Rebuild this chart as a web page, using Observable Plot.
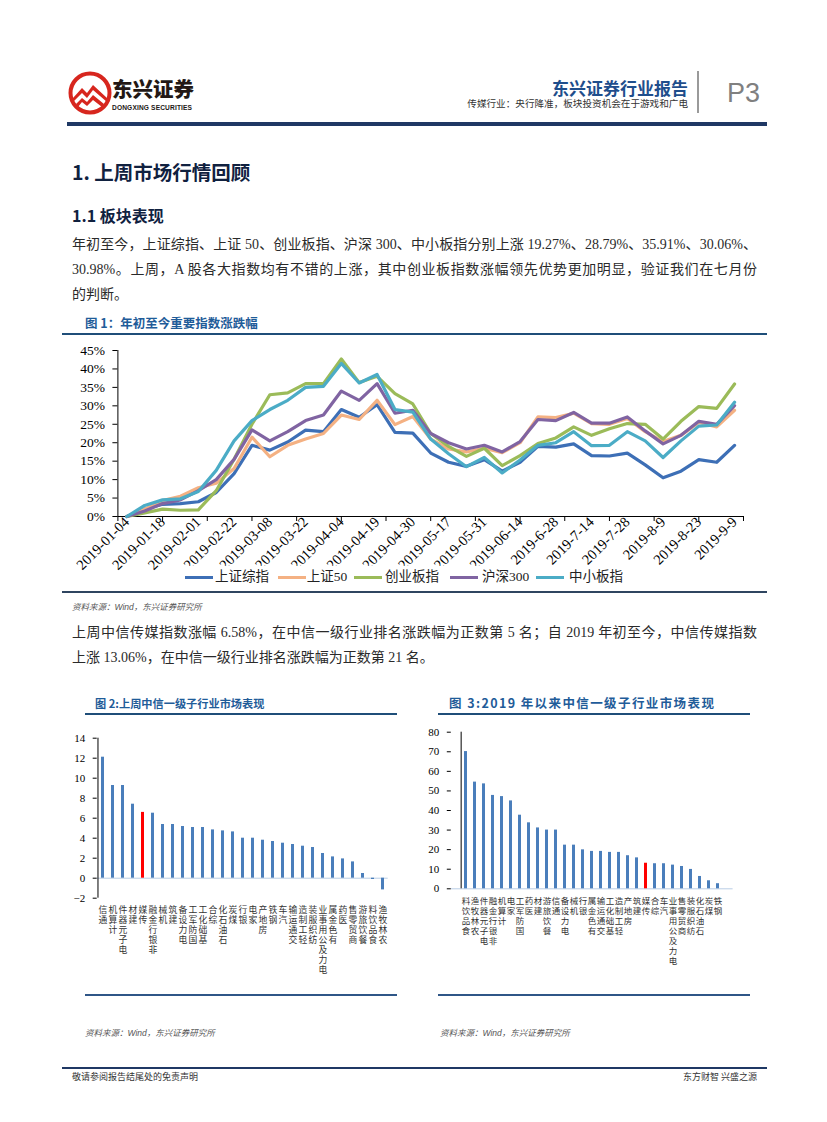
<!DOCTYPE html>
<html><head><meta charset="utf-8">
<script src="https://cdn.jsdelivr.net/npm/d3@7"></script>
<script src="https://cdn.jsdelivr.net/npm/@observablehq/plot@0.6"></script>
<style>
body{margin:0;background:#fff;}
#page{position:relative;width:827px;height:1122px;overflow:hidden;background:#fff;font-family:"Liberation Serif","Noto Sans CJK SC",serif;color:#222;}
.abs{position:absolute;white-space:nowrap;}
.cjk{font-family:"Noto Sans CJK SC",sans-serif;}
.bar{position:absolute;}
.para{position:absolute;left:72px;width:685px;height:20px;line-height:20px;font-size:14px;color:#2a2a2a;font-family:"Liberation Serif","Noto Sans CJK SC",serif;white-space:nowrap;}
.just{text-align:justify;text-align-last:justify;}
.figt{position:absolute;font-family:"Noto Sans CJK SC",sans-serif;font-weight:700;color:#1F5C99;white-space:nowrap;}
.src{position:absolute;font-size:8.5px;font-style:italic;color:#555;font-family:"Liberation Sans","Noto Sans CJK SC",sans-serif;white-space:nowrap;}
#c1,#c2,#c3{position:absolute;}
#legend{position:absolute;left:178px;top:566px;width:450px;height:22px;background:#fff;z-index:5;}
</style></head>
<body><div id="page">
  <!-- header -->
  <svg class="abs" style="left:68px;top:71px" width="44" height="44" viewBox="0 0 44 44">
    <circle cx="22" cy="22" r="19.5" fill="#fff" stroke="#D7261E" stroke-width="4"/>
    <path d="M5 27 L14 17 L19 22 L25 14 L39 27 L39 31 L25 19 L19 27 L14 22 L5 31 Z" fill="#D7261E"/>
    <path d="M8 33 L14 27 L19 31 L25 24 L36 33 L34 36 L25 29 L19 35 L14 31 L10 36 Z" fill="#D7261E"/>
  </svg>
  <div class="abs cjk" style="left:112px;top:78px;font-size:20.5px;font-weight:900;line-height:21px;color:#231815;">东兴证券</div>
  <div class="abs" style="left:112px;top:104px;font-size:6.6px;line-height:8px;font-weight:700;font-family:'Liberation Sans',sans-serif;color:#231815;letter-spacing:0.15px;">DONGXING SECURITIES</div>
  <div class="abs cjk" style="right:139px;top:78px;font-size:17px;font-weight:700;line-height:19px;color:#1F4E8C;">东兴证券行业报告</div>
  <div class="abs cjk" style="right:139px;top:97.5px;font-size:9.6px;line-height:11px;color:#333;">传媒行业：央行降准，板块投资机会在于游戏和广电</div>
  <div class="bar" style="left:697px;top:71px;width:1.5px;height:42px;background:#9a9a9a;"></div>
  <div class="abs" style="left:727px;top:77px;font-size:27px;line-height:32px;font-family:'Liberation Sans',sans-serif;font-weight:300;color:#808080;">P3</div>
  <div class="bar" style="left:67px;top:122px;width:700px;height:3.5px;background:#1F3864;"></div>

  <div class="abs cjk" style="left:72px;top:160px;font-size:19.5px;line-height:24px;font-weight:700;color:#10213f;">1. 上周市场行情回顾</div>
  <div class="abs cjk" style="left:72px;top:204px;font-size:16px;line-height:22px;font-weight:700;color:#10213f;">1.1 板块表现</div>

  <div class="para just" style="top:235px;">年初至今，上证综指、上证 50、创业板指、沪深 300、中小板指分别上涨 19.27%、28.79%、35.91%、30.06%、</div>
  <div class="para just" style="top:260px;">30.98%。上周，A 股各大指数均有不错的上涨，其中创业板指数涨幅领先优势更加明显，验证我们在七月份</div>
  <div class="para" style="top:285px;">的判断。</div>

  <div class="figt" style="left:85px;top:315px;font-size:12.5px;line-height:16px;">图 1：年初至今重要指数涨跌幅</div>
  <div class="bar" style="left:62px;top:333px;width:705px;height:1.5px;background:#1F4E79;"></div>
  <div id="c1" style="left:60px;top:340px;"></div>
  <div id="legend"></div>
  <div class="bar" style="left:62px;top:591px;width:705px;height:2px;background:#2F4560;"></div>
  <div class="src" style="left:72px;top:600px;">资料来源：Wind，东兴证券研究所</div>

  <div class="para just" style="top:623px;">上周中信传媒指数涨幅 6.58%，在中信一级行业排名涨跌幅为正数第 5 名；自 2019 年初至今，中信传媒指数</div>
  <div class="para" style="top:648px;">上涨 13.06%，在中信一级行业排名涨跌幅为正数第 21 名。</div>

  <div class="figt" style="left:95px;top:695px;font-size:11.2px;line-height:16px;">图 2:上周中信一级子行业市场表现</div>
  <div class="figt" style="left:449px;top:695px;font-size:12.5px;line-height:16px;letter-spacing:1.4px;">图 3:2019 年以来中信一级子行业市场表现</div>
  <div class="bar" style="left:85px;top:713px;width:312px;height:1.5px;background:#1F4E79;"></div>
  <div class="bar" style="left:438px;top:713px;width:312px;height:1.5px;background:#1F4E79;"></div>
  <div id="c2" style="left:45px;top:725px;"></div>
  <div id="c3" style="left:400px;top:720px;"></div>
  <div class="bar" style="left:85px;top:994px;width:312px;height:2px;background:#2F5687;"></div>
  <div class="bar" style="left:438px;top:994px;width:312px;height:2px;background:#2F5687;"></div>
  <div class="src" style="left:85px;top:1026px;">资料来源：Wind，东兴证券研究所</div>
  <div class="src" style="left:440px;top:1026px;">资料来源：Wind，东兴证券研究所</div>

  <div class="bar" style="left:62px;top:1067px;width:705px;height:2px;background:#1F3864;"></div>
  <div class="abs cjk" style="left:72px;top:1071px;font-size:9px;line-height:12px;color:#333;">敬请参阅报告结尾处的免责声明</div>
  <div class="abs cjk" style="right:70px;top:1071px;font-size:9px;line-height:12px;color:#333;">东方财智 兴盛之源</div>
</div>
<script>
// ---------- Figure 1 data ----------
const tickLabels = ["2019-01-04","2019-01-18","2019-02-01","2019-02-22","2019-03-08","2019-03-22","2019-04-04","2019-04-19","2019-04-30","2019-05-17","2019-05-31","2019-06-14","2019-6-28","2019-7-14","2019-7-28","2019-8-9","2019-8-23","2019-9-9"];
const seriesNames = ["上证综指","上证50","创业板指","沪深300","中小板指"];
const seriesColors = ["#3D6FB6","#F4B183","#9BBB59","#8064A2","#4BACC6"];
const shComposite = [0,2.0,3.3,3.5,4.0,6.5,11.6,19.3,18.0,20.2,23.4,23.0,29.0,26.9,30.3,22.8,22.6,17.2,14.7,13.6,15.4,12.3,14.7,19.0,18.8,19.7,16.5,16.4,17.2,14.0,10.5,12.3,15.4,14.7,19.27];
const sh50 = [0,2.0,4.3,5.5,7.8,9.0,13.0,21.5,16.2,19.3,21.0,22.5,27.5,26.3,31.5,24.9,27.1,21.0,18.3,17.5,18.5,17.3,20.0,27.0,26.8,28.0,25.2,25.0,26.6,23.0,20.3,22.0,25.5,24.3,28.79];
const chinext = [0,1.0,2.0,1.7,1.8,7.0,15.5,25.0,33.0,33.5,36.0,36.0,42.7,36.3,38.0,33.3,30.5,22.5,19.0,16.3,18.5,13.8,16.5,19.8,21.3,24.3,22.0,23.8,25.2,25.0,21.0,25.8,29.8,29.3,35.91];
const hs300 = [0,1.5,3.5,4.5,7.0,10.0,15.5,23.5,20.5,23.0,26.0,27.5,34.0,31.5,36.0,28.0,28.8,22.5,20.0,18.3,19.3,17.5,20.3,26.3,26.0,28.2,25.3,25.3,27.0,23.2,19.7,22.0,25.8,25.0,30.06];
const smeBoard = [0,3.0,4.5,4.8,6.8,12.5,20.5,26.0,29.0,31.5,35.0,35.3,41.5,36.2,38.5,29.0,28.3,21.0,17.0,13.5,16.0,11.8,15.3,19.3,20.0,23.0,19.2,19.3,23.0,20.5,16.0,20.5,24.5,24.8,30.98];
const yTicks1 = [0,5,10,15,20,25,30,35,40,45];

// ---------- Figure 2 data ----------
const cats2 = ["通信","计算机","电子元器件","建材","传媒","非银行金融","机械","建筑","电力设备","国防军工","基础化工","综合","石油石化","煤炭","银行","家电","房地产","钢铁","汽车","交通运输","轻工制造","纺织服装","电力及公用事业","有色金属","医药","商贸零售","餐饮旅游","食品饮料","农林牧渔"];
const vals2 = [12.1,9.27,9.27,7.4,6.58,6.5,5.37,5.37,5.17,5.07,5.07,4.83,4.73,4.63,4.0,4.0,3.8,3.67,3.5,3.37,3.2,3.07,2.47,2.13,1.93,1.63,0.47,-0.13,-1.17];
const yTicks2 = [-2,0,2,4,6,8,10,12,14];

// ---------- Figure 3 data ----------
const cats3 = ["食品饮料","农林牧渔","电子元器件","非银行金融","计算机","家电","国防军工","医药","建材","餐饮旅游","通信","电力设备","机械","银行","有色金属","交通运输","基础化工","轻工制造","房地产","建筑","传媒","综合","汽车","电力及公用事业","商贸零售","纺织服装","石油石化","煤炭","钢铁"];
const vals3 = [70.1,54.5,53.6,47.7,47.1,44.9,37.6,33.7,31.1,30.0,30.0,22.3,22.3,19.9,19.1,19.1,18.6,18.6,16.9,15.8,13.06,12.8,12.8,12.1,11.4,9.9,6.3,4.1,2.6];
const yTicks3 = [0,10,20,30,40,50,60,70,80];

const highlight = "传媒";
const barBlue = "#4A7EBB", barRed = "#FF0000";

// ---------- Figure 1 ----------
const seriesValues = [shComposite, sh50, chinext, hs300, smeBoard];
const rows1 = [];
seriesNames.forEach((s, k) => seriesValues[k].forEach((v, i) => rows1.push({i, v, s})));

const chart1 = Plot.plot({
  width: 700, height: 250,
  marginLeft: 57.4, marginRight: 17, marginTop: 10, marginBottom: 74,
  style: {fontFamily: "'Liberation Serif', serif", fontSize: "13.5px", color: "#000", background: "transparent", overflow: "visible"},
  x: {type: "linear", domain: [-0.5, 34.5], label: null},
  y: {domain: [0, 45], label: null},
  color: {domain: seriesNames, range: seriesColors},
  marks: [
    Plot.axisY({ticks: yTicks1, tickFormat: d => d + "%", tickSize: 5, tickPadding: 8, fontSize: 13.5}),
    Plot.axisX({ticks: d3.range(-0.5, 35, 2.5), tickSize: 5, tickFormat: () => ""}),
    Plot.axisX({ticks: tickLabels.map((_, k) => 2 * k), tickFormat: d => tickLabels[Math.round(d / 2)], tickSize: 0, tickPadding: 3, tickRotate: -45, fontSize: 14.5}),
    Plot.ruleX([-0.5], {stroke: "#000"}),
    Plot.ruleY([0], {stroke: "#000"}),
    Plot.line(rows1, {x: "i", y: "v", z: "s", stroke: "s", strokeWidth: 3.2, strokeLinejoin: "round"})
  ]
});
document.getElementById("c1").appendChild(chart1);

// legend
const legendPos = [[7, 37], [99.6, 128.7], [176, 207], [272, 304], [357.6, 391]];
const legend = document.getElementById("legend");
seriesNames.forEach((s, k) => {
  const sw = document.createElement("div");
  sw.style.cssText = `position:absolute;left:${legendPos[k][0]}px;top:9.5px;width:28px;height:3.5px;background:${seriesColors[k]};`;
  legend.appendChild(sw);
  const t = document.createElement("div");
  t.textContent = s;
  t.style.cssText = `position:absolute;left:${legendPos[k][1]}px;top:1px;font-size:13.5px;line-height:20px;color:#222;white-space:nowrap;font-family:'Liberation Serif','Noto Sans CJK SC',serif;`;
  legend.appendChild(t);
});

// ---------- bar chart helper ----------
function barChart(cats, vals, yDomain, yTicks, o) {
  const rows = cats.map((c, i) => ({c, v: vals[i]}));
  const step = (o.width - o.marginLeft - o.marginRight) / cats.length;
  return Plot.plot({
    width: o.width, height: o.height,
    marginLeft: o.marginLeft, marginRight: o.marginRight, marginTop: o.marginTop, marginBottom: o.marginBottom,
    style: {fontFamily: "'Liberation Serif', serif", fontSize: "11px", color: "#000", background: "transparent", overflow: "visible"},
    x: {domain: cats, paddingInner: 0.66, paddingOuter: 0.33, label: null},
    y: {domain: yDomain, label: null},
    marks: [
      Plot.ruleY([0], {stroke: "#B9CDE5", strokeWidth: 1}),
      Plot.barY(rows, {x: "c", y: "v", fill: d => d.c === highlight ? barRed : barBlue}),
      Plot.ruleX([cats[0]], {dx: -step / 2, stroke: "#000", strokeWidth: 1}),
      Plot.axisY({ticks: yTicks, tickSize: 4, tickPadding: 8, fontSize: 11}),
      Plot.axisX({tickSize: 0, tickPadding: o.labelPad, tickFormat: d => Array.from(d).reverse().join("\n"),
        lineAnchor: "top", lineHeight: o.lineHeight, fontSize: o.labelSize, fontFamily: "'Noto Sans CJK SC', sans-serif", fill: "#333"})
    ]
  });
}

document.getElementById("c2").appendChild(barChart(cats2, vals2, [-2, 14], yTicks2,
  {width: 355, height: 270, marginLeft: 51.7, marginRight: 12.3, marginTop: 12.7, marginBottom: 97.3, labelPad: 7.5, labelSize: 8.8, lineHeight: 1.136}));
document.getElementById("c3").appendChild(barChart(cats3, vals3, [0, 80], yTicks3,
  {width: 350, height: 275, marginLeft: 50.8, marginRight: 17.4, marginTop: 11.7, marginBottom: 106.7, labelPad: 8, labelSize: 8.5, lineHeight: 1.176}));
</script>
</body></html>
